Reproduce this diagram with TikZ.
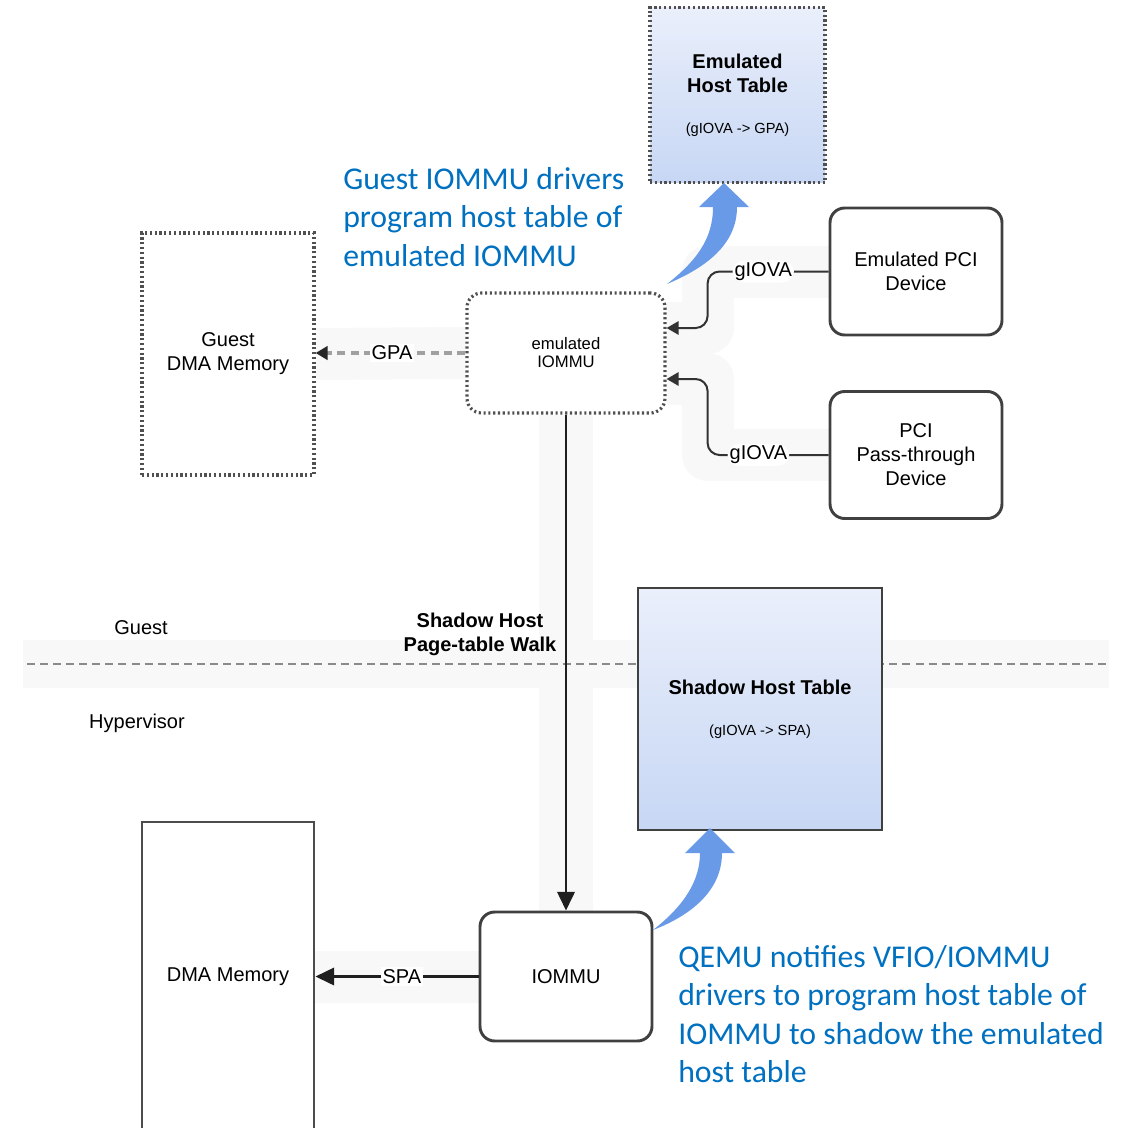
\documentclass[tikz,border=0pt]{standalone}
\usepackage{fontspec}
\setmainfont{Liberation Sans}
\newfontfamily\calibri{Carlito}
\usetikzlibrary{arrows.meta,calc}
\pgfdeclarelayer{background}
\pgfsetlayers{background,main}

\definecolor{bandgray}{RGB}{248,248,248}
\definecolor{edgegray}{RGB}{64,64,64}
\definecolor{dotgray}{RGB}{80,80,80}
\definecolor{noteblue}{RGB}{0,112,192}
\definecolor{swoosh}{RGB}{104,154,232}
\definecolor{tabletop}{RGB}{234,239,251}
\definecolor{tablebot}{RGB}{199,215,244}
\definecolor{splitgray}{RGB}{138,138,138}
\definecolor{gpagray}{RGB}{160,160,160}

\begin{document}
\begin{tikzpicture}[x=0.75pt,y=-0.75pt,
  txt/.style={font=\fontsize{15}{18}\selectfont},
  solidbox/.style={draw=edgegray, line width=2.2pt, inner sep=0pt, align=center, txt},
  roundbox/.style={solidbox, rounded corners=11pt},
  dotbox/.style={draw=dotgray, line width=2.4pt, dash pattern=on 1.6pt off 2pt,
                 inner sep=0pt, align=center, txt},
  tablefill/.style={top color=tabletop, bottom color=tablebot},
  band/.style={draw=bandgray, line width=39pt, line join=round},
  link/.style={draw=black!88, line width=1.9pt, -{Triangle[length=14pt,width=13pt]}},
  devlink/.style={draw=black!80, line width=1.5pt, rounded corners=9pt,
                  -{Triangle[length=9pt,width=10pt]}},
  gpalink/.style={draw=gpagray, line width=2.6pt, dash pattern=on 6pt off 4pt,
                  -{Triangle[length=9pt,width=10pt,color=black!85]}},
  edgelabel/.style={fill=white, inner sep=1.5pt, txt},
  note/.style={text=noteblue, font=\calibri\fontsize{23.8}{28.9}\selectfont,
               align=left, inner sep=0pt},
  splitline/.style={draw=splitgray, line width=2.2pt, dash pattern=on 6pt off 3.8pt}
]
\useasboundingbox (0,0) rectangle (1124,1128);

% boxes
\node[dotbox, tablefill, minimum width=131.25pt, minimum height=131.25pt] (eht) at (737.5,95)
  {\textbf{Emulated}\\\textbf{Host Table}\\[13pt]{\fontsize{11}{13}\selectfont (gIOVA -> GPA)}};
\node[dotbox, minimum width=129pt, minimum height=181.5pt] (gdm) at (228,354) {Guest\\DMA Memory};
\node[dotbox, rounded corners=11pt, minimum width=148.5pt, minimum height=90pt,
      font=\fontsize{12.5}{13.5}\selectfont] (eiommu) at (566,353) {emulated\\IOMMU};
\node[roundbox, minimum width=129pt, minimum height=95.25pt] (epci) at (916,271.5) {Emulated PCI\\Device};
\node[roundbox, minimum width=129pt, minimum height=95.25pt] (ppci) at (916,455) {PCI\\Pass-through\\Device};
\node[roundbox, minimum width=129pt, minimum height=96.75pt] (iommu) at (566,976.5) {IOMMU};
\node[solidbox, draw=black!70, minimum width=129pt, minimum height=232.5pt] (dma) at (228,977) {DMA Memory};

% anchor points on the emulated IOMMU for the two device links
\coordinate (in1) at ($(eiommu.east)+(0,-25)$);
\coordinate (in2) at ($(eiommu.east)+(0,26)$);

% light highlight bands behind the flows
\begin{pgfonlayer}{background}
  \draw[band, line width=36pt] (23,664) -- (1109,664);
  \draw[band] (gdm.east) -- (eiommu.west);
  \draw[band, line width=40.5pt] (eiommu.south) -- (iommu.north);
  \draw[band] (dma.east |- iommu.west) -- (iommu.west);
  \draw[band] (epci.west) -| ($(in1)+(41,0)$) -- (in1);
  \draw[band] (ppci.west) -| ($(in2)+(41,0)$) -- (in2);
\end{pgfonlayer}

% guest / hypervisor split
\draw[splitline] (27,664) -- (1109,664);
\node[txt] (guestlbl) at (141,628) {Guest};
\node[txt] (hyplbl) at (137,723) {Hypervisor};

% shadow table drawn over the split line
\node[solidbox, tablefill, minimum width=183pt, minimum height=181.5pt] (sht) at (760,709)
  {\textbf{Shadow Host Table}\\[12.4pt]{\fontsize{11}{13}\selectfont (gIOVA -> SPA)}};

\node[txt, font=\fontsize{15}{18}\selectfont\bfseries, align=center] (walk) at (480,634)
  {Shadow Host\\Page-table Walk};

% connectors
\draw[gpalink] (eiommu.west) -- node[edgelabel, pos=0.49]{GPA} (eiommu.west -| gdm.east);
\draw[link] (eiommu.south) -- (iommu.north);
\draw[link] (iommu.west) -- node[edgelabel, pos=0.47]{SPA} (iommu.west -| dma.east);
\draw[devlink] (epci.west) -| node[edgelabel, pos=0.27]{gIOVA} ($(in1)+(41,0)$) -- (in1);
\draw[devlink] (ppci.west) -| node[edgelabel, pos=0.29]{gIOVA} ($(in2)+(41,0)$) -- (in2);

% programming arrows
\fill[swoosh] (667,284) .. controls (695,262) and (713,240) .. (713,207)
  -- (699,207) -- (724,183) -- (749,207) -- (737,207)
  .. controls (737,245) and (705,268) .. cycle;
\fill[swoosh] (653,930) .. controls (685,905) and (700,880) .. (700,853)
  -- (685,853) -- (710,828) -- (735,853) -- (722,853)
  .. controls (722,890) and (692,915) .. cycle;

% notes
\node[note, anchor=north west] (note1) at (343,167)
  {Guest IOMMU drivers\\program host table of\\emulated IOMMU};
\node[note, anchor=north west] (note2) at (678,945)
  {QEMU notifies VFIO/IOMMU\\drivers to program host table of\\IOMMU to shadow the emulated\\host table};
\end{tikzpicture}
\end{document}
